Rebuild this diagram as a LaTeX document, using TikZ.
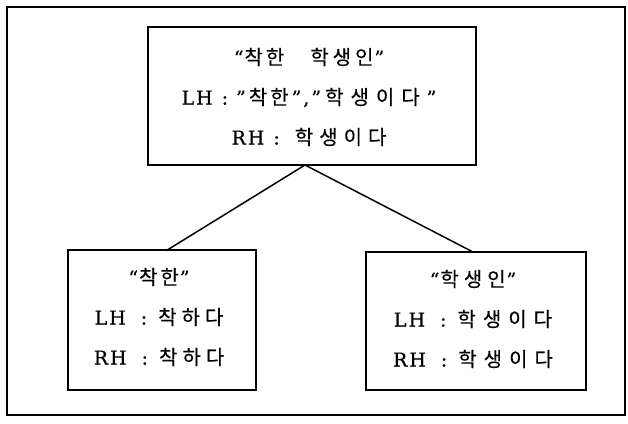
\documentclass[tikz,border=0pt]{standalone}
\usepackage{fontspec}
\setmainfont[FakeBold=0.6]{DejaVu Serif}
\newfontfamily\cjk[FakeBold=0.3]{Noto Sans CJK KR}
\newcommand\kr[1]{{\cjk\fontsize{20}{40}\selectfont #1}}
\newcommand\g[1]{\hspace{#1pt}}
\begin{document}
\begin{tikzpicture}[x=1pt,y=-1pt,
  box/.style={draw,line width=1.6pt,inner sep=0pt},
  txt/.style={inner sep=0pt,align=center,font=\fontsize{19}{40}\selectfont},
  edge/.style={line width=1.5pt}]
\useasboundingbox (0,0) rectangle (628,423);
\draw[line width=1.8pt] (7,7) rectangle (625,415);
\node[box,minimum width=328,minimum height=138] (top) at (312,96) {};
\node[box,minimum width=188,minimum height=140] (left) at (162,320) {};
\node[box,minimum width=220,minimum height=138] (right) at (476,321) {};
\node[txt] (toptext) at ([xshift=-3pt,yshift=-1pt]top.center)
  {“\g{1}\kr{착\g{3}한\g{26}학\g{4}생\g{4}인}\g{1}”\\
   L\g{2}H\g{9}:\g{8}"\g{3}\kr{착\g{3}한}\g{3}"\g{2},\g{2}"\g{4}\kr{학\g{7}생\g{7}이\g{7}다}\g{7}"\\
   R\g{2}H\g{9}:\g{15}\kr{학\g{6}생\g{6}이\g{6}다}};
\node[txt] (lefttext) at ([xshift=-3pt,yshift=3pt]left.center)
  {“\g{1}\kr{착\g{3}한}\g{1}”\\
   L\g{2}H\g{15}:\g{11}\kr{착\g{5}하\g{5}다}\\
   R\g{2}H\g{15}:\g{11}\kr{착\g{5}하\g{5}다}};
\node[txt] (righttext) at ([xshift=-3pt,yshift=2pt]right.center)
  {“\g{1}\kr{학\g{5}생\g{5}인}\g{1}”\\
   L\g{2}H\g{15}:\g{11}\kr{학\g{7}생\g{7}이\g{7}다}\\
   R\g{2}H\g{15}:\g{11}\kr{학\g{7}생\g{7}이\g{7}다}};
\coordinate (ta) at (305,165);
\draw[edge] (ta) -- (166,250.8);
\draw[edge] (ta) -- (473,252);
\end{tikzpicture}
\end{document}
